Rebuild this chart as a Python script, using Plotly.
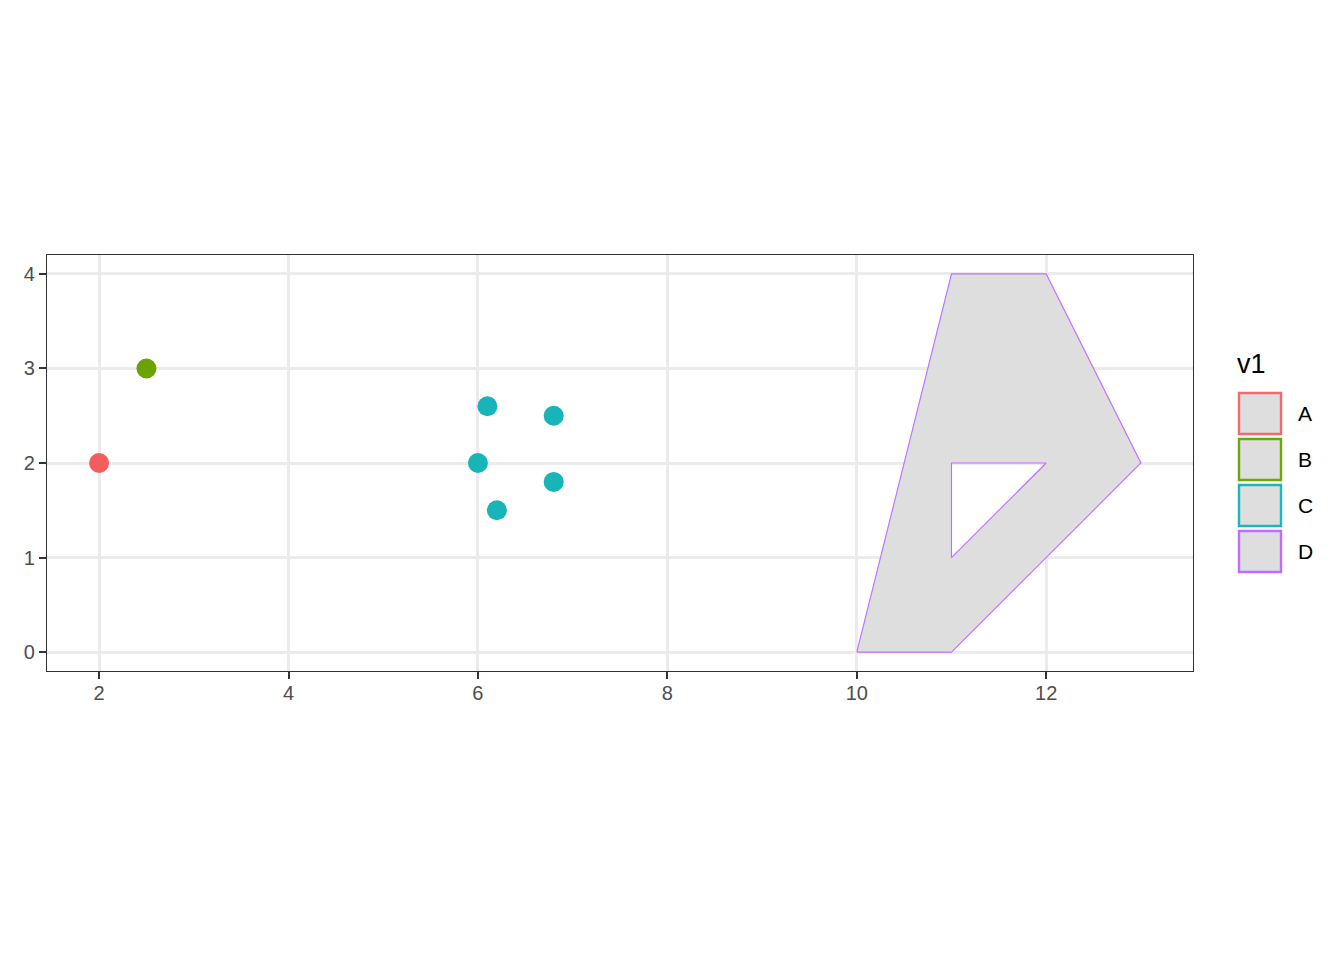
import plotly.graph_objects as go

# ---- data ----
categories = ["A", "B", "C", "D"]
point_colors = ["#F45D5D", "#6BA400", "#17B5B8", "#C06DFF"]
key_colors = ["#F56A68", "#6FA60A", "#1AB7BB", "#C06DFF"]

point_group = ["A", "B", "C", "C", "C", "C", "C"]
point_x = [2.0, 2.5, 6.0, 6.1, 6.2, 6.8, 6.8]
point_y = [2.0, 3.0, 2.0, 2.6, 1.5, 2.5, 1.8]

poly_group = "D"
poly_outer_x = [10, 11, 12, 13, 11]
poly_outer_y = [0, 4, 4, 2, 0]
poly_hole_x = [11, 11, 12]
poly_hole_y = [1, 2, 2]

x_ticks = [2, 4, 6, 8, 10, 12]
y_ticks = [0, 1, 2, 3, 4]
legend_title = "v1"

# ---- layout geometry (page has an 8px body margin) ----
OFF = 8
W, H = 1344 - OFF, 960 - OFF
ML, MT = 47 - OFF, 255 - OFF
MR = W - (1193 - OFF)
MB = H - (671 - OFF)
PW = W - ML - MR
PH = H - MT - MB

def px_x(p):
    return (p - OFF - ML) / PW

def px_y(p):
    return 1 - (p - OFF - MT) / PH

pcol = dict(zip(categories, point_colors))
kcol = dict(zip(categories, key_colors))
fig = go.Figure()

# polygon with hole (hole reversed winding)
hx = list(reversed(poly_hole_x))
hy = list(reversed(poly_hole_y))
fig.add_trace(go.Scatter(
    x=poly_outer_x + [poly_outer_x[0], None] + hx + [hx[0]],
    y=poly_outer_y + [poly_outer_y[0], None] + hy + [hy[0]],
    mode="lines", fill="toself", fillcolor="#DEDEDE",
    line=dict(color=pcol[poly_group], width=1.1),
    showlegend=False, hoverinfo="skip"))

for c in categories:
    xs = [x for x, g in zip(point_x, point_group) if g == c]
    ys = [y for y, g in zip(point_y, point_group) if g == c]
    if xs:
        fig.add_trace(go.Scatter(x=xs, y=ys, mode="markers",
                                 marker=dict(color=pcol[c], size=20, line=dict(width=0)),
                                 name=c, showlegend=False))

FONT = "Liberation Sans, Arial, sans-serif"

axis_common = dict(showgrid=True, gridcolor="#EBEBEB", gridwidth=2.5,
                   zeroline=False, showline=True, mirror=True,
                   linecolor="#333333", linewidth=1.3,
                   ticks="outside", ticklen=7, tickwidth=2.2, tickcolor="#333333",
                   tickfont=dict(family=FONT, size=20, color="#4D4D4D"))

fig.update_xaxes(range=[1.45, 13.55], tickvals=x_ticks, ticktext=[str(v) for v in x_ticks],
                 ticklabelstandoff=-3, **axis_common)
fig.update_yaxes(range=[-0.2, 4.2], tickvals=y_ticks, ticktext=[str(v) for v in y_ticks],
                 **axis_common)

# manual legend
shapes = []
annotations = [dict(text=legend_title, x=px_x(1235), y=px_y(364), xref="paper", yref="paper",
                    xanchor="left", yanchor="middle", showarrow=False,
                    font=dict(family=FONT, size=27, color="#000000"))]
top0, step, size = 392, 46, 43
for i, c in enumerate(categories):
    t = top0 + i * step
    shapes.append(dict(type="rect", xref="paper", yref="paper",
                       x0=px_x(1239), x1=px_x(1281), y0=px_y(t + size - 1), y1=px_y(t + 1),
                       fillcolor="#DEDEDE", line=dict(color=kcol[c], width=2.4)))
    annotations.append(dict(text=c, x=px_x(1296), y=px_y(t + size / 2), xref="paper", yref="paper",
                            xanchor="left", yanchor="middle", showarrow=False,
                            font=dict(family=FONT, size=21, color="#000000")))

fig.update_layout(width=W, height=H, margin=dict(l=ML, r=MR, t=MT, b=MB, pad=0),
                  paper_bgcolor="white", plot_bgcolor="white",
                  showlegend=False, shapes=shapes, annotations=annotations,
                  font=dict(family=FONT))

fig.write_html("out.html")
